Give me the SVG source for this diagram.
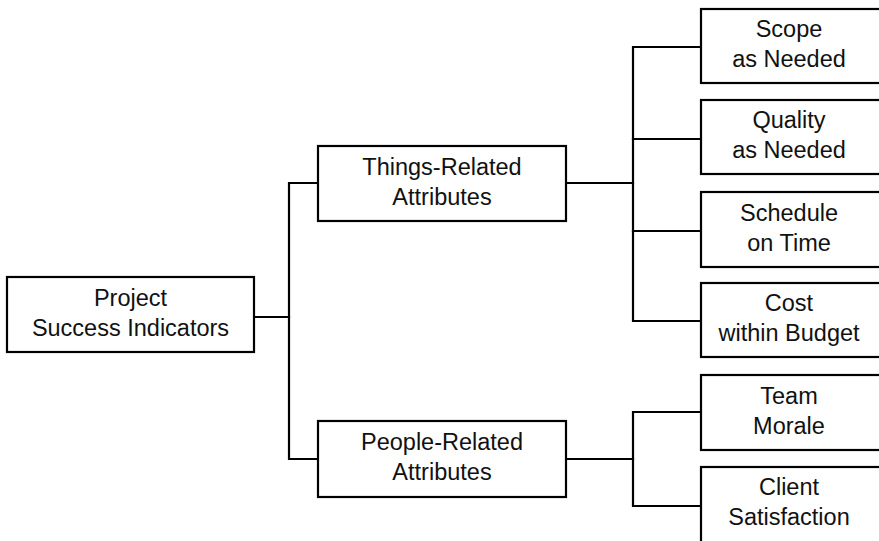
<svg xmlns="http://www.w3.org/2000/svg" width="879" height="541" viewBox="0 0 879 541">
  <style>
    .box { fill: #ffffff; stroke: #000000; stroke-width: 2.2; }
    .link { fill: none; stroke: #000000; stroke-width: 2.2; stroke-linejoin: miter; stroke-linecap: square; }
    text { font-family: "Liberation Sans", Arial, Helvetica, sans-serif; font-size: 23.5px; fill: #111111; text-anchor: middle; }
  </style>
  <rect x="0" y="0" width="879" height="541" fill="#ffffff"/>

  <!-- connectors -->
  <g id="connectors">
    <!-- root to the two attribute groups -->
    <path class="link" d="M254,317 H289"/>
    <path class="link" d="M318,183 H289 V459 H318"/>
    <!-- things-related branch -->
    <path class="link" d="M566,183 H633"/>
    <path class="link" d="M701,47 H633 V321 H701"/>
    <path class="link" d="M633,139 H701"/>
    <path class="link" d="M633,231 H701"/>
    <!-- people-related branch -->
    <path class="link" d="M566,459 H633"/>
    <path class="link" d="M701,412 H633 V506 H701"/>
  </g>

  <g id="root">
    <rect class="box" x="7" y="277" width="247" height="75"/>
    <text x="130.5" y="305.5">Project</text>
    <text x="130.5" y="335.5">Success Indicators</text>
  </g>

  <g id="things">
    <rect class="box" x="318" y="146" width="248" height="75"/>
    <text x="442" y="174.5">Things-Related</text>
    <text x="442" y="204.5">Attributes</text>
  </g>

  <g id="people">
    <rect class="box" x="318" y="421" width="248" height="76"/>
    <text x="442" y="450">People-Related</text>
    <text x="442" y="480">Attributes</text>
  </g>

  <g id="scope">
    <rect class="box" x="701" y="9" width="190" height="74"/>
    <text x="789" y="37">Scope</text>
    <text x="789" y="67">as Needed</text>
  </g>

  <g id="quality">
    <rect class="box" x="701" y="100" width="190" height="74"/>
    <text x="789" y="128">Quality</text>
    <text x="789" y="158">as Needed</text>
  </g>

  <g id="schedule">
    <rect class="box" x="701" y="192" width="190" height="75"/>
    <text x="789" y="220.5">Schedule</text>
    <text x="789" y="250.5">on Time</text>
  </g>

  <g id="cost">
    <rect class="box" x="701" y="283" width="190" height="74"/>
    <text x="789" y="311">Cost</text>
    <text x="789" y="341">within Budget</text>
  </g>

  <g id="team">
    <rect class="box" x="701" y="375" width="190" height="75"/>
    <text x="789" y="403.5">Team</text>
    <text x="789" y="433.5">Morale</text>
  </g>

  <g id="client">
    <rect class="box" x="701" y="467" width="190" height="76"/>
    <text x="789" y="495">Client</text>
    <text x="789" y="525">Satisfaction</text>
  </g>
</svg>
